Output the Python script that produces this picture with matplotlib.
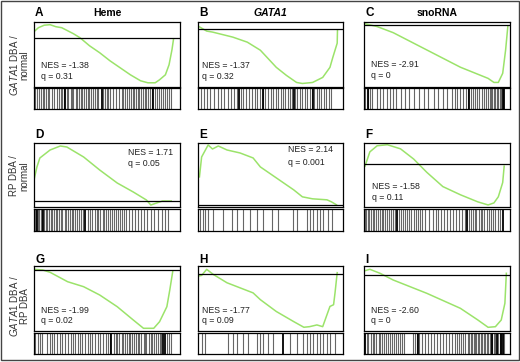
import matplotlib
matplotlib.use('Agg')
import matplotlib.pyplot as plt
from matplotlib.patches import Rectangle

plt.rcParams['font.family'] = ['Liberation Sans', 'DejaVu Sans']
plt.rcParams['mathtext.fontset'] = 'custom'
plt.rcParams['mathtext.it'] = 'Liberation Sans:italic'
plt.rcParams['mathtext.rm'] = 'Liberation Sans'

W, H = 520, 362
GREEN = '#9be36a'

# gene-set titles and panel letters
titles = ['Heme', 'GATA1', 'snoRNA']
letters = ['A', 'B', 'C', 'D', 'E', 'F', 'G', 'H', 'I']
row_labels = [(r'$\it{GATA1}$ DBA /', 'normal'),
              ('RP DBA /', 'normal'),
              (r'$\it{GATA1}$ DBA /', 'RP DBA')]

nes = ['-1.38', '-1.37', '-2.91', '1.71', '2.14', '-1.58', '-1.99', '-1.77', '-2.60']
qval = ['0.31', '0.32', '0', '0.05', '0.001', '0.11', '0.02', '0.09', '0']

# running enrichment score: rank fraction / ES
A_x = [0, .03, .07, .11, .15, .19, .23, .27, .315, .38, .45, .52, .59, .66, .73, .78, .83, .86, .90, .925, .945, .955]
A_es = [.06, .10, .125, .13, .11, .10, .07, .04, 0, -.08, -.15, -.23, -.30, -.37, -.43, -.45, -.45, -.42, -.37, -.27, -.12, -.02]
B_x = [0, .06, .10, .24, .34, .43, .54, .61, .68, .72, .79, .86, .91, .93, .96, .962]
B_es = [.03, -.02, -.03, -.08, -.13, -.21, -.38, -.46, -.53, -.54, -.53, -.48, -.38, -.28, -.14, -.01]
C_x = [0, .09, .20, .43, .66, .85, .89, .92, .95, .97, .985]
C_es = [.01, -.02, -.08, -.25, -.42, -.53, -.57, -.57, -.48, -.25, -.02]
D_x = [0, .02, .04, .11, .18, .225, .34, .45, .57, .68, .77, .80, .84, .88, .94]
D_es = [.21, .34, .43, .51, .55, .54, .44, .31, .18, .09, .01, -.04, -.02, 0, 0]
E_x = [.01, .025, .07, .10, .14, .20, .29, .38, .43, .54, .66, .72, .79, .89, .92, .955]
E_es = [.28, .48, .60, .56, .59, .55, .52, .47, .38, .27, .15, .08, .06, .05, .03, 0]
F_x = [.007, .04, .09, .16, .25, .34, .43, .54, .66, .78, .85, .89, .92, .95, .96]
F_es = [-.02, .12, .18, .19, .15, .05, -.08, -.22, -.30, -.37, -.40, -.38, -.32, -.18, -.02]
G_x = [0, .06, .11, .23, .34, .45, .57, .68, .75, .82, .86, .91, .93, .95]
G_es = [.007, 0, -.023, -.117, -.167, -.25, -.367, -.50, -.583, -.583, -.517, -.367, -.20, -.017]
H_x = [0, .025, .06, .105, .20, .29, .38, .43, .54, .66, .73, .77, .82, .86, .91, .935, .945, .96]
H_es = [-.017, -.01, .05, 0, -.083, -.133, -.183, -.25, -.367, -.467, -.523, -.517, -.50, -.517, -.317, -.30, -.183, .017]
I_x = [.007, .04, .11, .20, .43, .66, .78, .85, .90, .94, .965, .975]
I_es = [.043, .057, .017, -.05, -.183, -.333, -.45, -.523, -.517, -.45, -.283, .017]

curves_x = [A_x, B_x, C_x, D_x, E_x, F_x, G_x, H_x, I_x]
curves_es = [A_es, B_es, C_es, D_es, E_es, F_es, G_es, H_es, I_es]
ylims = [(-0.487, 0.157), (-0.57, 0.07), (-0.61, 0.025),
         (-0.063, 0.583), (-0.025, 0.623), (-0.423, 0.21),
         (-0.61, 0.04), (-0.56, 0.083), (-0.56, 0.09)]

# hit positions in the ranked list (percent), faint and strong
A_hits = [1, 2, 3.5, 5, 6, 7, 8.5, 9.5, 10.5, 12.5, 14, 16, 17, 18.5, 19.5, 20.5,
          22.5, 23.5, 25, 26, 27, 28.5, 29.5, 31, 32, 33, 34.5, 35.5, 37, 38, 39, 40.5, 41.5, 43, 44,
          47.5, 48.5, 50, 51, 52, 54, 56, 58.5, 60, 61, 62.5, 64, 65,
          66.5, 67.5, 68.5, 70, 71, 72, 73.5, 74.5, 76, 77, 78, 79.5, 80.5,
          83, 84.5, 85.5, 87, 88.5, 90, 91, 92.5, 94]
A_strong = [21.2, 46.4, 81.7]
B_hits = [2, 4, 6.5, 8, 11, 14, 16, 18, 21, 23, 25, 27, 29.5, 31, 33, 35, 37, 39, 41, 43,
          44.5, 46, 48, 50, 52, 53.5, 55, 57, 58.5, 60, 62, 63.5, 65, 67, 68.5, 70, 72, 73.5,
          75, 77, 78.5, 80, 82, 83.5, 85, 87, 88.5, 90, 92]
B_strong = [28, 45, 66, 79]
C_hits = [1, 2.5, 4, 5.5, 9, 11, 13, 15.5, 18, 20, 22, 25, 28, 31, 34, 38, 41, 44, 48, 51,
          54, 57, 60, 62, 64, 66, 68, 70, 71.5, 73, 74.5, 76, 77.5, 79, 80.5, 82, 83.5,
          85, 86, 87, 88, 89, 90, 91, 92, 93, 94]
C_strong = [3, 72, 95.5, 96.2]
D_hits = [0.5, 1.5, 2.5, 3.5, 4.5, 5.5, 7, 8, 9, 10, 11.5, 12.5, 13.5, 15, 16, 17, 18.5, 19.5,
          21, 22, 23, 24.5, 26, 27, 28, 29.5, 31, 32, 33.5, 37, 38.5, 40, 41.5, 43, 44, 45.5,
          47, 48, 49.5, 51, 52, 53.5, 55, 56, 57.5, 59, 60, 61.5, 63, 65, 67, 69, 71, 73, 75,
          77.5, 80, 82.5, 85, 87.5, 90, 92]
D_strong = [2, 6, 35]
E_hits = [1.4, 3.2, 4.8, 7.1, 10.6, 17.5, 23.2, 26.7, 31.3, 35.9, 40.5, 45.1, 50.8, 55.4,
          65.7, 68, 75, 77.2, 79.5, 81.8, 84.1, 86.4, 89.9, 92.2]
E_strong = []
F_hits = [0.5, 1.5, 2.5, 3.5, 5, 6, 7, 8.5, 9.5, 11, 12, 13, 14.5, 16, 17, 18.5, 20, 21,
          24, 25.5, 27, 28, 29.5, 31, 32.5, 34, 35.5, 37, 38.5, 40, 42, 44.5, 47, 49.5,
          51, 53, 55, 57, 59, 61, 63, 65, 67, 69, 72, 73, 74.5, 76, 77, 78.5, 80, 81, 82.5,
          84, 85.5, 87, 88.5, 90, 91.5, 93]
F_strong = [22.5, 70.8, 95]
G_hits = [1, 2.5, 4, 5.5, 9, 11, 12.5, 14, 16, 18, 19.5, 21, 23, 25, 26.5, 28, 30, 31.5, 33,
          35, 37, 38.5, 40, 42, 44, 45.5, 47, 49, 50.5, 52, 54.5, 56, 57, 58.5, 60, 61, 62,
          63.5, 65, 66, 67, 68.5, 70, 71, 72, 73.5, 75, 76, 77, 78.5, 80, 81, 82, 83.5, 85,
          86, 87, 91, 92.5, 94]
G_strong = [53, 88.6, 89.5]
H_hits = [2.5, 4.8, 20.9, 24.4, 26.7, 31.3, 34.7, 40.5, 42.8, 45.1, 48.5, 51.9, 63.4, 68,
          72.6, 74.9, 77.2, 79.5, 81.8, 84.1, 86.4, 88.7, 91, 94.5]
H_strong = [58.9]
I_hits = [2, 3, 4.5, 6, 7, 8.5, 10, 11, 12.5, 14, 15, 16.5, 18, 19, 20.5, 22, 23, 24.5, 26,
          27.5, 33.5, 35, 36.5, 38, 40, 42, 44, 46, 48, 50, 52, 54, 56, 58, 60, 62, 63.5, 65,
          66.5, 68, 69.5, 71, 72, 73, 74, 75, 76, 77, 78, 79, 80, 81, 82, 83, 84, 85, 86, 87,
          88, 89, 90, 91, 92, 93, 94, 95, 96]
I_strong = [0.7, 37, 88, 91, 93.5, 95.5]

hits = [A_hits, B_hits, C_hits, D_hits, E_hits, F_hits, G_hits, H_hits, I_hits]
strong = [A_strong, B_strong, C_strong, D_strong, E_strong, F_strong, G_strong, H_strong, I_strong]

# layout in pixels
col_x = [(34, 180), (198, 343), (364, 510)]
row_curve = [(22, 86.5), (142.7, 207.3), (266, 331)]
row_bar = [(87.5, 109), (208.5, 231), (332.5, 354)]
row_label_y = [65, 176, 306]
letter_y = [12.5, 135, 260]
# where NES text sits, axes fraction
txt_pos = [(0.046, 0.32, 0.15), (0.03, 0.32, 0.15), (0.048, 0.34, 0.17),
           (0.647, 0.85, 0.68), (0.62, 0.90, 0.69), (0.053, 0.325, 0.158),
           (0.046, 0.31, 0.154), (0.03, 0.31, 0.154), (0.048, 0.31, 0.154)]


def px_axes(fig, x0, x1, y0, y1):
    return fig.add_axes([x0 / W, 1 - y1 / H, (x1 - x0) / W, (y1 - y0) / H])


fig = plt.figure(figsize=(W / 100, H / 100), dpi=100)

for i in range(9):
    r, c = divmod(i, 3)
    x0, x1 = col_x[c]
    ax = px_axes(fig, x0, x1, *row_curve[r])
    ax.plot(curves_x[i], curves_es[i], color=GREEN, lw=1.1)
    ax.axhline(0, color='black', lw=0.9)
    ax.set_xlim(0, 1)
    ax.set_ylim(*ylims[i])
    ax.set_xticks([])
    ax.set_yticks([])
    for s in ax.spines.values():
        s.set_linewidth(0.9)
    tx, ty1, ty2 = txt_pos[i]
    ax.text(tx, ty1, 'NES = ' + nes[i], transform=ax.transAxes, fontsize=6.3, va='center', color='#222222')
    ax.text(tx, ty2, 'q = ' + qval[i], transform=ax.transAxes, fontsize=6.3, va='center', color='#222222')

    bx = px_axes(fig, x0, x1, *row_bar[r])
    bx.vlines([h / 100 for h in hits[i]], 0, 1, color='0.4', lw=0.8)
    bx.vlines([h / 100 for h in strong[i]], 0, 1, color='black', lw=1.3)
    bx.set_xlim(0, 1)
    bx.set_ylim(0, 1)
    bx.set_xticks([])
    bx.set_yticks([])
    for s in bx.spines.values():
        s.set_linewidth(0.9)

    fig.text((x0 + 1) / W, 1 - letter_y[r] / H, letters[i], fontsize=8.5, fontweight='bold',
             va='center', ha='left')

for c, t in enumerate(titles):
    x0, x1 = col_x[c]
    style = 'italic' if t == 'GATA1' else 'normal'
    fig.text((x0 + x1) / 2 / W, 1 - 13.3 / H, t, fontsize=7.5, fontweight='bold',
             fontstyle=style, ha='center', va='center')

for r, (l1, l2) in enumerate(row_labels):
    fig.text(14 / W, 1 - row_label_y[r] / H, l1, rotation=90, fontsize=7,
             ha='center', va='center', color='#333333')
    fig.text(24.5 / W, 1 - row_label_y[r] / H, l2, rotation=90, fontsize=7,
             ha='center', va='center', color='#333333')

fig.patches.append(Rectangle((0.5 / W, 2 / H), 518 / W, 359.5 / H, transform=fig.transFigure,
                             fill=False, lw=1.0, ec='#444444'))

fig.savefig('out.png', dpi=100)
